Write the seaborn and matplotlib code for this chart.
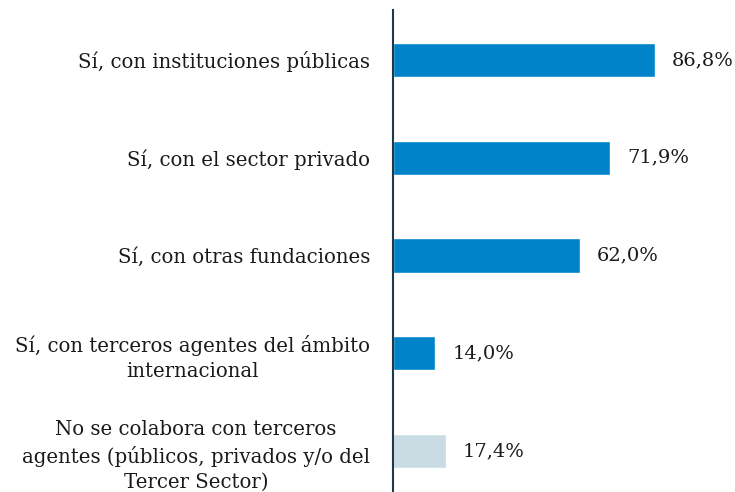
import pandas as pd
import seaborn as sns
import matplotlib.pyplot as plt

categories = [
    "Sí, con instituciones públicas",
    "Sí, con el sector privado",
    "Sí, con otras fundaciones",
    "Sí, con terceros agentes del ámbito\ninternacional",
    "No se colabora con terceros\nagentes (públicos, privados y/o del\nTercer Sector)",
]
values = [86.8, 71.9, 62.0, 14.0, 17.4]
groups = ["si", "si", "si", "si", "no"]

palette = {"si": "#0083C9", "no": "#C9DCE3"}

df = pd.DataFrame({"cat": categories, "val": values, "grp": groups})

sns.set_style("white")
plt.rcParams['font.family'] = ['DejaVu Serif']

fig = plt.figure(figsize=(7.35, 4.92), dpi=100)
ax = fig.add_axes([393 / 735, 0, 302 / 735, 482 / 492])

sns.barplot(data=df, y="cat", x="val", hue="grp", palette=palette,
            orient="h", width=0.35, dodge=False, legend=False,
            saturation=1, ax=ax)

for i, v in enumerate(values):
    ax.text(v + 5.6, i, f"{v:.1f}%".replace(".", ","), va="center", ha="left",
            fontsize=14, color="#1a1a1a")

ax.set_xlim(0, 100)
ax.set_ylim(4.42, -0.51)
ax.set_xlabel("")
ax.set_ylabel("")
ax.set_xticks([])
for s in ["top", "right", "bottom"]:
    ax.spines[s].set_visible(False)
ax.spines["left"].set_color("#1E3A4A")
ax.spines["left"].set_linewidth(1.5)
ax.tick_params(axis="y", length=0, pad=16.5)
for lab in ax.get_yticklabels():
    lab.set_fontsize(14.2)
    lab.set_multialignment("center")
    lab.set_linespacing(1.4)
    lab.set_color("#1a1a1a")

fig.savefig("out.png", dpi=100)
